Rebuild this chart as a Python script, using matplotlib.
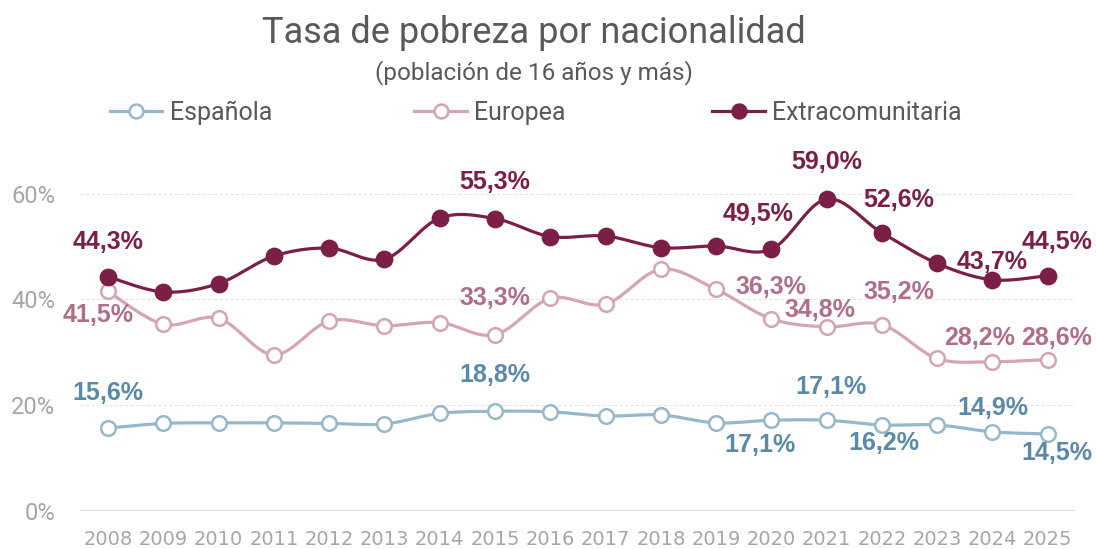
import numpy as np
import matplotlib
matplotlib.use("Agg")
import matplotlib.pyplot as plt
from matplotlib.lines import Line2D

years = list(range(2008, 2026))
espanola = [15.6, 16.5, 16.6, 16.6, 16.5, 16.4, 18.4, 18.8, 18.7, 17.9, 18.1, 16.6,
            17.1, 17.1, 16.2, 16.2, 14.9, 14.5]
europea = [41.5, 35.3, 36.4, 29.5, 35.9, 35.0, 35.6, 33.3, 40.2, 39.1, 45.7, 41.9,
           36.3, 34.8, 35.2, 28.8, 28.2, 28.6]
extra = [44.3, 41.4, 43.0, 48.2, 49.7, 47.6, 55.4, 55.3, 51.9, 52.0, 49.8, 50.1,
         49.5, 59.0, 52.6, 46.8, 43.7, 44.5]

# which points carry a label, with offset in pixels (dx, dy)
lab_esp = {2008: (0, 35), 2015: (0, 36), 2020: (-11, -25), 2021: (4, 33), 2022: (2, -18),
           2024: (0, 24), 2025: (9, -19)}
lab_eur = {2008: (-10, -24), 2015: (0, 37), 2020: (0, 32), 2021: (-7, 17), 2022: (17, 33),
           2024: (-13, 24), 2025: (9, 22)}
lab_ext = {2008: (0, 35), 2015: (0, 37), 2020: (-13, 35), 2021: (0, 37), 2022: (17, 33),
           2024: (0, 18), 2025: (9, 34)}

c_esp_line, c_esp_txt = "#97B8CB", "#5A8AA6"
c_eur_line, c_eur_txt = "#D4A5B4", "#B06F88"
c_ext = "#7B1F47"

plt.rcParams['font.family'] = ['Roboto', 'DejaVu Sans']


def smooth(x, y, n=20):
    # bezier like excel smoothed lines
    x = np.asarray(x, float)
    y = np.asarray(y, float)
    p = np.column_stack([x, y])
    pts = [p[0]]
    for i in range(len(p) - 1):
        p0 = p[i - 1] if i > 0 else p[i]
        p1, p2 = p[i], p[i + 1]
        p3 = p[i + 2] if i + 2 < len(p) else p[i + 1]
        b1 = p1 + (p2 - p0) / 6
        b2 = p2 - (p3 - p1) / 6
        t = np.linspace(0, 1, n)[1:, None]
        seg = ((1 - t) ** 3) * p1 + 3 * ((1 - t) ** 2) * t * b1 + 3 * (1 - t) * t ** 2 * b2 + t ** 3 * p2
        pts.extend(seg)
    pts = np.array(pts)
    return pts[:, 0], pts[:, 1]


fig = plt.figure(figsize=(10.96, 5.49), dpi=100)
ax = fig.add_axes([0.0734, 0.0701, 0.9078, 0.625])

series = [
    (espanola, c_esp_line, c_esp_txt, 'white', lab_esp, 'Española'),
    (europea, c_eur_line, c_eur_txt, 'white', lab_eur, 'Europea'),
    (extra, c_ext, c_ext, c_ext, lab_ext, 'Extracomunitaria'),
]

for vals, lc, tc, fc, labs, name in series:
    sx, sy = smooth(years, vals)
    ax.plot(sx, sy, color=lc, lw=2.3, zorder=3, solid_capstyle='round')
    ax.plot(years, vals, ls='none', marker='o', ms=10.5 if fc == 'white' else 11,
            mfc=fc, mec=lc, mew=1.8, zorder=4)
    for yr, (dx, dy) in labs.items():
        v = vals[years.index(yr)]
        ax.annotate(f"{v:.1f}".replace('.', ',') + '%', (yr, v), xytext=(dx, dy),
                    textcoords='offset pixels', ha='center', va='center',
                    fontsize=18, fontweight='bold', color=tc, clip_on=False, zorder=5,
                    family=['Liberation Sans', 'DejaVu Sans'])

ax.set_xlim(2007.5, 2025.5)
ax.set_ylim(0, 65)
ax.set_yticks([0, 20, 40, 60])
ax.set_yticklabels(['0%', '20%', '40%', '60%'])
ax.set_xticks(years)
ax.set_xticklabels([str(y) for y in years], family=['Liberation Sans Narrow', 'DejaVu Sans'])
for g in [20, 40, 60]:
    ax.axhline(g, color='#E3E3E3', lw=0.8, ls=(0, (3, 2)), zorder=1)
ax.axhline(0, color='#D9D9D9', lw=2, zorder=2)
for s in ax.spines.values():
    s.set_visible(False)
ax.tick_params(axis='both', length=0, labelcolor='#A6A6A6')
ax.tick_params(axis='x', pad=14, labelsize=14)
ax.tick_params(axis='y', pad=18, labelsize=17)

fig.text(0.487, 0.94, 'Tasa de pobreza por nacionalidad', ha='center', va='center',
         fontsize=26, color='#595959')
fig.text(0.487, 0.867, '(población de 16 años y más)', ha='center', va='center',
         fontsize=17.5, color='#595959')

handles = [Line2D([], [], color=lc, lw=2.3, marker='o', ms=10, mfc=fc, mec=lc, mew=1.8)
           for _, lc, _, fc, _, _ in series]
names = [s[5] for s in series]
for h, nm, xpos in zip(handles, names, [0.10, 0.378, 0.65]):
    fig.legend([h], [nm], loc='center left', bbox_to_anchor=(xpos, 0.794), frameon=False,
               fontsize=18, labelcolor='#595959', handlelength=2.1, handletextpad=0.3,
               borderpad=0, borderaxespad=0)

fig.savefig('out.png', dpi=100)
